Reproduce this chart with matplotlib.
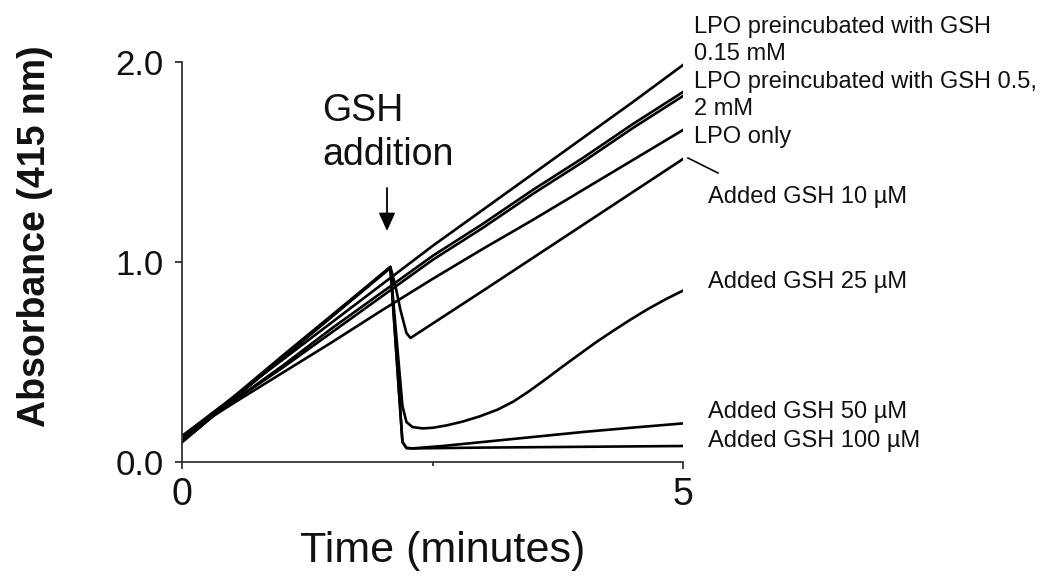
import matplotlib
matplotlib.use("Agg")
import matplotlib.pyplot as plt
from matplotlib.lines import Line2D

plt.rcParams['font.family'] = ['Liberation Sans', 'DejaVu Sans']

# ---------------- data ----------------
t_cont = [0.0, 0.5, 1.0, 1.5, 2.0, 2.5, 3.0, 3.5, 4.0, 4.5, 5.0]
pre_015 = [0.13, 0.32, 0.51, 0.70, 0.89, 1.08, 1.26, 1.44, 1.62, 1.80, 1.985]
pre_05 = [0.12, 0.30, 0.48, 0.67, 0.85, 1.03, 1.19, 1.36, 1.52, 1.69, 1.85]
pre_2 = [0.12, 0.30, 0.47, 0.65, 0.83, 1.01, 1.17, 1.34, 1.50, 1.67, 1.83]
lpo_only = [0.13, 0.29, 0.445, 0.60, 0.76, 0.915, 1.065, 1.21, 1.36, 1.51, 1.66]

g10_t = [0.0, 1.0, 2.08, 2.13, 2.18, 2.24, 2.28, 2.32, 3.0, 4.0, 5.0]
g10_y = [0.11, 0.53, 0.975, 0.88, 0.76, 0.645, 0.62, 0.633, 0.855, 1.185, 1.515]

g25_t = [0.0, 1.0, 2.08, 2.20, 2.24, 2.30, 2.40, 2.50, 2.64, 2.80, 2.97, 3.15, 3.31,
         3.47, 3.64, 3.80, 3.97, 4.13, 4.30, 4.47, 4.64, 4.82, 5.0]
g25_y = [0.10, 0.52, 0.97, 0.28, 0.20, 0.175, 0.168, 0.171, 0.183, 0.202, 0.228, 0.262, 0.303,
         0.356, 0.418, 0.478, 0.540, 0.598, 0.655, 0.710, 0.762, 0.812, 0.857]

g50_t = [0.0, 1.0, 2.08, 2.20, 2.24, 2.30, 2.60, 3.0, 3.5, 4.0, 4.5, 5.0]
g50_y = [0.10, 0.52, 0.975, 0.10, 0.07, 0.068, 0.08, 0.10, 0.125, 0.15, 0.172, 0.193]

g100_t = [0.0, 1.0, 2.08, 2.20, 2.24, 2.30, 3.0, 4.0, 5.0]
g100_y = [0.10, 0.52, 0.975, 0.10, 0.07, 0.068, 0.072, 0.076, 0.08]

y_ticks = [0.0, 1.0, 2.0]
y_ticklabels = ["0.0", "1.0", "2.0"]
x_ticks = [0, 5]
x_ticklabels = ["0", "5"]

label_lines = ["LPO preincubated with GSH", "0.15 mM",
               "LPO preincubated with GSH 0.5,", "2 mM", "LPO only",
               "Added GSH 10 \u00b5M", "Added GSH 25 \u00b5M",
               "Added GSH 50 \u00b5M", "Added GSH 100 \u00b5M"]

# ---------------- figure ----------------
W, H = 1043, 576
fig = plt.figure(figsize=(W / 100, H / 100), dpi=100)
ax = fig.add_axes([182 / W, 1 - 462 / H, (683 - 182) / W, 400 / H])

lw = 1.9
for y in (pre_015, pre_05, pre_2, lpo_only):
    ax.plot(t_cont, y, color='black', lw=lw, solid_joinstyle='round')
for tt, yy in ((g10_t, g10_y), (g25_t, g25_y), (g50_t, g50_y), (g100_t, g100_y)):
    ax.plot(tt, yy, color='black', lw=lw, solid_joinstyle='round')

ax.set_xlim(0, 5)
ax.set_ylim(0, 2.0)
for s in ('top', 'right'):
    ax.spines[s].set_visible(False)
for s in ('left', 'bottom'):
    ax.spines[s].set_color('#333333')
    ax.spines[s].set_linewidth(1.3)

ax.set_yticks(y_ticks)
ax.set_yticklabels(y_ticklabels, fontsize=25, color='#111111')
ax.set_xticks(x_ticks)
ax.set_xticklabels(x_ticklabels, fontsize=27, color='#111111')
ax.set_xticks([2.5], minor=True)
ax.tick_params(axis='y', direction='out', length=5, width=1.3, color='#333333', pad=8)
ax.tick_params(axis='x', which='major', direction='out', length=5, width=1.3, color='#333333', pad=6)
ax.tick_params(axis='x', which='minor', direction='out', length=3, width=1.3, color='#333333')

ax.set_ylabel("Absorbance (415 nm)", fontsize=27, fontweight='bold', color='#111111')
ax.yaxis.set_label_coords(-0.2575, 0.564)
ax.set_xlabel("Time (minutes)", fontsize=31, color='#111111')
ax.xaxis.set_label_coords(0.52, -0.1725)

# GSH addition annotation
def fx(px):
    return px / W

def fy(py):
    return 1 - py / H

fig.text(fx(322), fy(121), "GSH", fontsize=27, va='baseline', ha='left', color='#111111')
fig.text(fx(322), fy(165), "addition", fontsize=27, va='baseline', ha='left', color='#111111')
ax.annotate("", xy=(fx(387), fy(231)), xycoords='figure fraction',
            xytext=(fx(387), fy(188)), textcoords='figure fraction',
            arrowprops=dict(arrowstyle='-|>,head_length=0.55,head_width=0.25',
                            color='black', lw=1.3, mutation_scale=20,
                            shrinkA=0, shrinkB=0))

# right-hand labels
label_pos = [(694, 33), (694, 60), (694, 88), (694, 115), (694, 143),
             (708, 203), (708, 288), (708, 418), (708, 447)]
for txt, (px, py) in zip(label_lines, label_pos):
    fig.text(fx(px), fy(py), txt, fontsize=17, va='baseline', ha='left', color='#111111')

fig.add_artist(Line2D([fx(688), fx(718)], [fy(158), fy(173)], color='black', lw=1.2))

fig.savefig("out.png", dpi=100)
